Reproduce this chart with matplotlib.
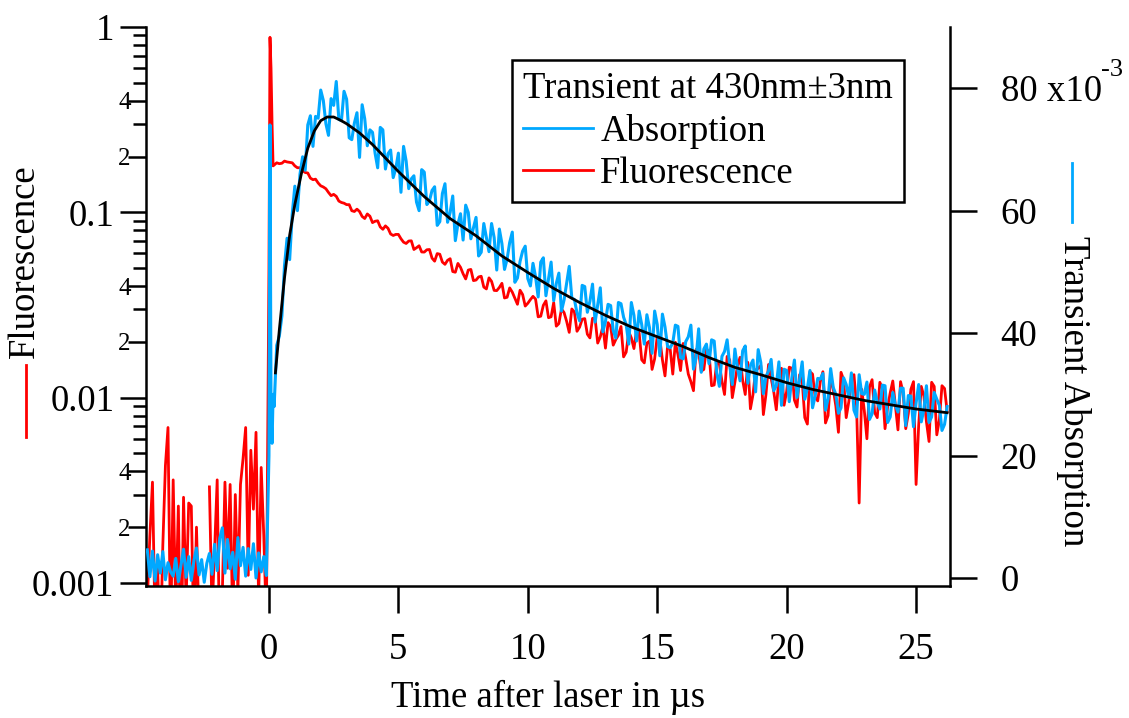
import numpy as np
import matplotlib
matplotlib.use("Agg")
import matplotlib.pyplot as plt
from matplotlib.lines import Line2D
from matplotlib.ticker import FixedLocator, FuncFormatter

plt.rcParams['font.family'] = 'Liberation Serif'

# --- data (time in us) ---
t_pre_start, t_pre_step = -4.7, 0.1
t_onset = [0.0, 0.04, 0.08, 0.12, 0.16]
t_a_start = 0.2   # samples at 0.2, 0.4, ... 26.2
t_b_start = 0.3   # samples at 0.3, 0.5, ... 26.1
t_ab_step = 0.2

# fluorescence, left log axis (values <= 0 leave gaps)
fluo_pre = [0.0008, 0.0018, 0.0035, 0.0006, 0.0012, 0.0004, 0.0016, 0.0043, 0.0069, 0.0005,
            0.0036, 0.0007, 0.0026, 0.0003, 0.0029, 0.0008, 0.0027, 0.0026, 0.0005, 0.0020,
            0.0006, -0.0002, 0.0024, -0.0001, 0.0033, 0.0007, 0.0015, 0.0036, 0.0004, 0.0009,
            0.0035, 0.0012, 0.0034, 0.0006, 0.0030, 0.0009, 0.0034, 0.0047, 0.0069, 0.0011,
            0.0052, 0.0025, 0.0065, 0.0008, 0.0042, 0.0018, 0.0006]
fluo_onset = [0.05, 0.88, 0.6, 0.3, 0.178]
fluo_a = [0.180, 0.183, 0.189, 0.186, 0.178, 0.174, 0.164, 0.153, 0.151, 0.139,
          0.134, 0.123, 0.122, 0.113, 0.110, 0.102, 0.104, 0.095, 0.098, 0.088,
          0.090, 0.081, 0.082, 0.075, 0.076, 0.069, 0.070, 0.063, 0.066, 0.061,
          0.063, 0.0545, 0.0594, 0.0524, 0.0562, 0.0475, 0.0505, 0.0437, 0.0492, 0.0431,
          0.0452, 0.0386, 0.0424, 0.0378, 0.0414, 0.0348, 0.0371, 0.0319, 0.0360, 0.0323,
          0.0352, 0.0273, 0.0315, 0.0270, 0.0326, 0.0251, 0.0288, 0.0225, 0.0290, 0.0240,
          0.0267, 0.0210, 0.0267, 0.0213, 0.0185, 0.0242, 0.0206, 0.0242, 0.0176, 0.0210,
          0.0230, 0.0160, 0.0197, 0.0142, 0.0214, 0.0160, 0.0190, 0.0134, 0.0171, 0.0196,
          0.0134, 0.0109, 0.0175, 0.0142, 0.0175, 0.0117, 0.0152, 0.0104, 0.0160, 0.0121,
          0.0165, 0.0104, 0.0087, 0.0141, 0.0149, 0.0104, 0.0127, 0.0086, 0.0144, 0.0108,
          0.0144, 0.0089, 0.0123, 0.0072, 0.0134, 0.0096, 0.0138, 0.0080, 0.0111, 0.0065,
          0.0125, 0.0095, 0.0133, 0.0027, 0.0085, 0.0114, 0.0083, 0.0121, 0.0068, 0.0106,
          0.0091, 0.0122, 0.0068, 0.0111, 0.0034, 0.0115, 0.0074, 0.0121, 0.0063, 0.0116,
          0.0084]
fluo_b = [0.185, 0.184, 0.187, 0.185, 0.174, 0.168, 0.163, 0.150, 0.144, 0.137,
          0.128, 0.125, 0.115, 0.112, 0.110, 0.101, 0.101, 0.0926, 0.0953, 0.0895,
          0.0834, 0.0845, 0.0764, 0.0760, 0.0720, 0.0679, 0.0702, 0.0644, 0.0611, 0.0628,
          0.0566, 0.0599, 0.0539, 0.0551, 0.0479, 0.0530, 0.0466, 0.0488, 0.0428, 0.0448,
          0.0395, 0.0443, 0.0379, 0.0393, 0.0345, 0.0391, 0.0344, 0.0380, 0.0312, 0.0338,
          0.0340, 0.0275, 0.0333, 0.0273, 0.0243, 0.0301, 0.0258, 0.0301, 0.0228, 0.0265,
          0.0220, 0.0268, 0.0197, 0.0242, 0.0254, 0.0192, 0.0217, 0.0166, 0.0227, 0.0184,
          0.0224, 0.0154, 0.0202, 0.0162, 0.0208, 0.0131, 0.0183, 0.0199, 0.0140, 0.0163,
          0.0122, 0.0182, 0.0139, 0.0184, 0.0116, 0.0156, 0.0123, 0.0167, 0.0100, 0.0149,
          0.0124, 0.0155, 0.0104, 0.0144, 0.0081, 0.0151, 0.0108, 0.0129, 0.0091, 0.0146,
          0.0097, 0.0133, 0.0078, 0.0138, 0.0101, 0.0122, 0.0073, 0.0131, 0.0090, 0.0137,
          0.0078, 0.0124, 0.0090, 0.0111, 0.0060, 0.0125, 0.0078, 0.0112, 0.0089, 0.0123,
          0.0067, 0.0106, 0.0082, 0.0122, 0.0071, 0.0102, 0.0058, 0.0115, 0.0076, 0.0112]

# transient absorption, right axis, in units of 1e-3
abs_pre = [4.6, 0.2, 4.4, -0.5, 3.8, 0.8, 4.3, -0.3, 2.5, 1.0,
           0.3, 3.2, -0.6, 2.0, 4.7, 0.1, 3.5, -0.4, 2.8, 4.9,
           0.5, 3.0, -0.7, 2.4, 4.0, 0.6, 5.5, 1.2, 6.5, 8.2,
           0.8, 6.3, 1.5, 4.2, -0.2, 6.6, 2.0, 5.0, 0.3, 4.8,
           1.4, 5.6, 0.0, 4.1, 1.0, 3.5, 0.4]
abs_onset = [20, 74, 27, 22, 30]
abs_a = [28.0, 39.5, 51.0, 52.0, 64.0, 66.0, 66.6, 75.5, 75.4, 79.7,
         74.2, 78.3, 81.1, 74.7, 78.2, 71.6, 76.0, 77.3, 70.6, 72.8,
         67.0, 73.2, 69.3, 65.4, 69.4, 70.5, 63.6, 65.7, 60.0, 66.3,
         61.6, 63.9, 58.2, 64.4, 59.7, 55.1, 59.5, 60.9, 55.4, 58.9,
         53.2, 55.6, 57.9, 50.3, 54.6, 52.1, 56.5, 49.0, 53.4, 48.9,
         51.4, 45.9, 52.3, 48.8, 45.3, 49.8, 45.4, 50.9, 45.5, 42.0,
         47.6, 45.2, 41.8, 47.4, 41.9, 44.5, 39.2, 44.8, 41.4, 45.0,
         38.7, 41.4, 43.0, 36.7, 41.4, 43.1, 37.8, 38.4, 41.1, 35.8,
         39.4, 34.1, 40.7, 37.4, 35.0, 38.7, 31.3, 37.0, 34.7, 37.4,
         32.2, 37.9, 34.7, 30.4, 35.2, 32.9, 35.7, 31.4, 28.2, 33.9,
         32.7, 29.5, 35.3, 31.0, 27.8, 32.6, 33.4, 29.3, 31.1, 26.9,
         32.7, 29.5, 27.4, 33.2, 30.0, 25.9, 30.7, 27.6, 31.4, 26.3,
         28.2, 31.0, 24.9, 29.7, 28.6, 25.5, 31.4, 26.3, 29.2, 24.1,
         28.0]
abs_b = [38.0, 42.8, 55.5, 59.5, 60.0, 68.8, 74.0, 70.5, 75.1, 78.0,
         72.3, 77.2, 74.9, 79.5, 71.9, 74.3, 68.7, 75.0, 73.2, 69.4,
         73.6, 66.8, 69.9, 66.9, 63.0, 68.1, 65.2, 61.4, 66.7, 61.0,
         63.3, 57.6, 62.8, 58.1, 62.4, 57.8, 55.2, 59.7, 57.2, 52.6,
         57.9, 53.3, 55.6, 57.0, 50.4, 54.8, 48.3, 51.7, 54.2, 47.7,
         49.2, 51.6, 46.1, 51.6, 48.1, 43.6, 48.2, 45.7, 43.3, 47.8,
         43.4, 48.0, 44.6, 40.2, 44.7, 40.4, 45.0, 42.6, 38.2, 42.9,
         43.6, 38.2, 40.9, 43.6, 36.3, 41.0, 37.6, 41.3, 36.0, 38.6,
         41.3, 35.9, 33.6, 38.2, 38.9, 33.5, 36.2, 38.9, 31.6, 34.3,
         37.1, 31.8, 35.6, 37.3, 30.1, 33.8, 30.6, 35.3, 34.1, 28.8,
         35.6, 32.4, 29.2, 33.9, 29.7, 32.5, 27.4, 34.2, 30.0, 27.8,
         31.6, 33.5, 26.3, 30.1, 32.0, 26.8, 28.7, 31.5, 25.4, 30.3,
         27.1, 31.0, 29.8, 24.7, 31.6, 27.5, 25.4, 30.3, 28.2, 25.1]

# fitted curve (black), 1e-3 units
fit_t = [0.25, 0.4, 0.6, 0.8, 1.0, 1.25, 1.5, 1.75, 2.0, 2.25, 2.5, 2.75, 3.0, 3.5,
         4.0, 5.0, 6.0, 7.0, 8.0, 9.0, 10.0, 11.0, 12.0, 13.0, 14.0, 15.0, 16.0,
         17.0, 18.0, 19.0, 20.0, 21.0, 22.0, 23.0, 24.0, 25.0, 26.2]
fit_abs = [33.5, 40.5, 49.0, 56.0, 61.0, 66.0, 70.2, 73.0, 74.7, 75.3, 75.3, 74.8, 74.2, 72.7,
           70.8, 66.4, 62.3, 58.7, 55.9, 52.6, 49.9, 47.3, 45.0, 42.9, 41.0, 39.4, 37.8,
           36.0, 34.4, 33.2, 31.9, 30.8, 29.9, 29.0, 28.3, 27.6, 27.0]

# merge the two interleaved sample sets after the pulse
t_pre = t_pre_start + t_pre_step * np.arange(len(fluo_pre))
t_a = t_a_start + t_ab_step * np.arange(len(fluo_a))
t_b = t_b_start + t_ab_step * np.arange(len(fluo_b))
t_post = np.concatenate([t_a, t_b])
order = np.argsort(t_post)
time = np.concatenate([t_pre, t_onset, t_post[order]])
fluo = np.concatenate([fluo_pre, fluo_onset, np.concatenate([fluo_a, fluo_b])[order]])
absorb = np.concatenate([abs_pre, abs_onset, np.concatenate([abs_a, abs_b])[order]]) * 1e-3

red = '#ff0000'
blue = '#00a8ff'
W, H = 1129, 718
fs = 26.5

fig = plt.figure(figsize=(W / 100, H / 100), dpi=100)
ax1 = fig.add_axes([146 / W, 1 - 586 / H, (950 - 146) / W, (586 - 27) / H])
ax2 = ax1.twinx()

ax1.plot(time, fluo, color=red, lw=2.0)
ax1.set_yscale('log', nonpositive='mask')
ax1.set_ylim(0.000963, 1)
ax1.set_xlim(-4.75, 26.31)

ax2.plot(time, absorb, color=blue, lw=2.2)
ax2.plot(fit_t, np.array(fit_abs) * 1e-3, color='black', lw=2.0)
ax2.set_ylim(-0.00131, 0.0900)

lw_ax = 1.8
for sp in ('top', 'right'):
    ax1.spines[sp].set_visible(False)
for sp in ('top', 'left', 'bottom'):
    ax2.spines[sp].set_visible(False)
ax1.spines['left'].set_linewidth(lw_ax)
ax1.spines['bottom'].set_linewidth(lw_ax)
ax2.spines['right'].set_linewidth(lw_ax)

# x axis
ax1.xaxis.set_major_locator(FixedLocator([0, 5, 10, 15, 20, 25]))
ax1.tick_params(axis='x', direction='out', length=19.4, width=lw_ax, pad=14, labelsize=fs)

# left log axis
ax1.yaxis.set_major_locator(FixedLocator([0.001, 0.01, 0.1, 1]))
ax1.yaxis.set_major_formatter(FuncFormatter(lambda v, p: {0.001: '0.001', 0.01: '0.01', 0.1: '0.1', 1: '1'}.get(round(v, 3), '')))
minor_mant = [m for e in (-3, -2, -1) for m in range(2, 10)]
minor_locs = [m * 10.0 ** e for e in (-3, -2, -1) for m in range(2, 10)]
ax1.yaxis.set_minor_locator(FixedLocator(minor_locs))
ax1.yaxis.set_minor_formatter(FuncFormatter(
    lambda v, p: str(int(round(v / 10 ** np.floor(np.log10(v) + 1e-9))))
    if int(round(v / 10 ** np.floor(np.log10(v) + 1e-9))) in (2, 4) else ''))
ax1.tick_params(axis='y', which='major', direction='out', length=18.7, width=lw_ax, pad=4, labelsize=fs)
ax1.tick_params(axis='y', which='minor', direction='out', length=9.4, width=lw_ax, pad=1.5, labelsize=18)

# right linear axis, exponent written next to the top label
ax2.yaxis.set_major_locator(FixedLocator([0, 0.02, 0.04, 0.06, 0.08]))
ax2.set_yticklabels(['0', '20', '40', '60', '80 x10'])
ax2.tick_params(axis='y', direction='out', length=19.4, width=lw_ax, pad=17, labelsize=fs)
fig.text(1101 / W, 1 - 70 / H, '-3', ha='left', va='center', fontsize=19)

# axis titles with trace swatches (Igor style)
fig.text(548 / W, 1 - 697 / H, 'Time after laser in µs', ha='center', va='center', fontsize=fs)
fig.text(25 / W, 1 - 261 / H, 'Fluorescence', rotation=90, ha='center', va='center', fontsize=fs)
fig.add_artist(Line2D([26 / W, 26 / W], [1 - 365 / H, 1 - 437 / H], color=red, lw=2.0))
fig.text(1073 / W, 1 - 391 / H, 'Transient Absorption', rotation=-90, ha='center', va='center', fontsize=fs)
fig.add_artist(Line2D([1072 / W, 1072 / W], [1 - 163 / H, 1 - 222 / H], color=blue, lw=2.0))

handles = [Line2D([], [], color=blue, lw=2.0), Line2D([], [], color=red, lw=2.0)]
leg = ax2.legend(handles, ['Absorption', 'Fluorescence'], title='Transient at 430nm±3nm',
                 title_fontsize=fs, fontsize=fs, loc='upper left', bbox_to_anchor=(0.455, 0.941),
                 borderaxespad=0, frameon=True, fancybox=False, framealpha=1, edgecolor='black',
                 borderpad=0.3, labelspacing=0.22, handlelength=1.9, handletextpad=0.2,
                 alignment='left')
leg.get_frame().set_linewidth(lw_ax)

# longer ticks at the labelled minor positions (2 and 4)
for tick, m in zip(ax1.yaxis.get_minor_ticks(len(minor_locs)), minor_mant):
    if m in (2, 4):
        tick.tick1line.set_markersize(13)

fig.savefig('out.png', dpi=100)
